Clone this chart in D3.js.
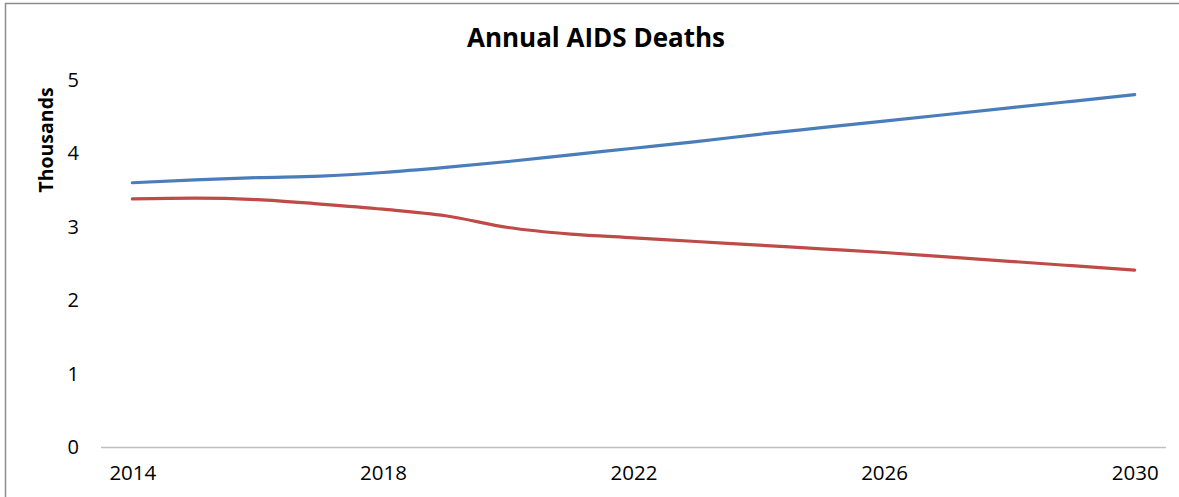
<!DOCTYPE html>
<html>
<head>
<meta charset="utf-8">
<script src="https://cdn.jsdelivr.net/npm/d3@7"></script>
<style>
  html, body { margin: 0; padding: 0; background: #fff; }
  svg { display: block; }
  text { font-family: "Open Sans", "DejaVu Sans", sans-serif; fill: #000; }
</style>
</head>
<body>
<svg id="chart" width="1179" height="497"></svg>
<script>
// Years on the category axis
const years = [2014, 2015, 2016, 2017, 2018, 2019, 2020, 2021, 2022,
               2023, 2024, 2025, 2026, 2027, 2028, 2029, 2030];
// Annual AIDS deaths, thousands
const seriesBlue = [3.60, 3.64, 3.67, 3.69, 3.74, 3.81, 3.89, 3.98, 4.07,
                    4.16, 4.26, 4.35, 4.44, 4.53, 4.62, 4.71, 4.80];
const seriesRed  = [3.38, 3.39, 3.37, 3.31, 3.24, 3.15, 2.99, 2.90, 2.85,
                    2.80, 2.75, 2.70, 2.65, 2.59, 2.53, 2.47, 2.41];
const xTickLabels = [2014, 2018, 2022, 2026, 2030];
const yTickValues = [0, 1, 2, 3, 4, 5];

const W = 1179, H = 497;
const plot = { left: 101, right: 1166, top: 80, bottom: 447 };

const svg = d3.select("#chart");

// Outer chart frame
svg.append("rect")
  .attr("x", 5.5).attr("y", 3.5)
  .attr("width", W + 10).attr("height", H + 10)
  .attr("fill", "none").attr("stroke", "#8c8c8c").attr("stroke-width", 1.5);

// Scales: category positions sit in the middle of each band
const x = d3.scalePoint()
  .domain(years)
  .range([plot.left, plot.right])
  .padding(0.5);

const y = d3.scaleLinear()
  .domain([0, 5])
  .range([plot.bottom, plot.top]);

// Title
svg.append("text")
  .attr("x", 596).attr("y", 47)
  .attr("text-anchor", "middle")
  .style("font-size", "26px").style("font-weight", "700")
  .text("Annual AIDS Deaths");

// Y axis title
svg.append("text")
  .attr("transform", "translate(53,140) rotate(-90)")
  .attr("text-anchor", "middle")
  .style("font-size", "19.5px").style("font-weight", "700")
  .text("Thousands");

// Y axis (labels only)
const yAxis = svg.append("g")
  .attr("transform", `translate(${plot.left - 22},0)`)
  .call(d3.axisLeft(y).tickValues(yTickValues).tickSize(0).tickPadding(0).tickFormat(d3.format("d")));
yAxis.select(".domain").remove();
yAxis.selectAll("text")
  .style("font-family", "\"Open Sans\", sans-serif")
  .style("font-size", "20px").attr("fill", "#000");

// X axis
const xAxis = svg.append("g")
  .attr("transform", `translate(0,${plot.bottom})`)
  .call(d3.axisBottom(x).tickValues(xTickLabels).tickSize(0).tickPadding(18).tickFormat(d3.format("d")));
xAxis.select(".domain")
  .attr("stroke", "#bfbfbf").attr("stroke-width", 1.5)
  .attr("d", `M${plot.left},0.5H${plot.right}`);
xAxis.selectAll("text")
  .style("font-family", "\"Open Sans\", sans-serif")
  .style("font-size", "20.5px").attr("fill", "#000");

// Series lines (smoothed through every data point)
const line = d3.line()
  .x((d, i) => x(years[i]))
  .y(d => y(d))
  .curve(d3.curveMonotoneX);

svg.append("path")
  .datum(seriesBlue)
  .attr("d", line)
  .attr("fill", "none")
  .attr("stroke", "#4a7ebb")
  .attr("stroke-width", 3.2)
  .attr("stroke-linejoin", "round")
  .attr("stroke-linecap", "round");

svg.append("path")
  .datum(seriesRed)
  .attr("d", line)
  .attr("fill", "none")
  .attr("stroke", "#be4b48")
  .attr("stroke-width", 3.2)
  .attr("stroke-linejoin", "round")
  .attr("stroke-linecap", "round");
</script>
</body>
</html>
